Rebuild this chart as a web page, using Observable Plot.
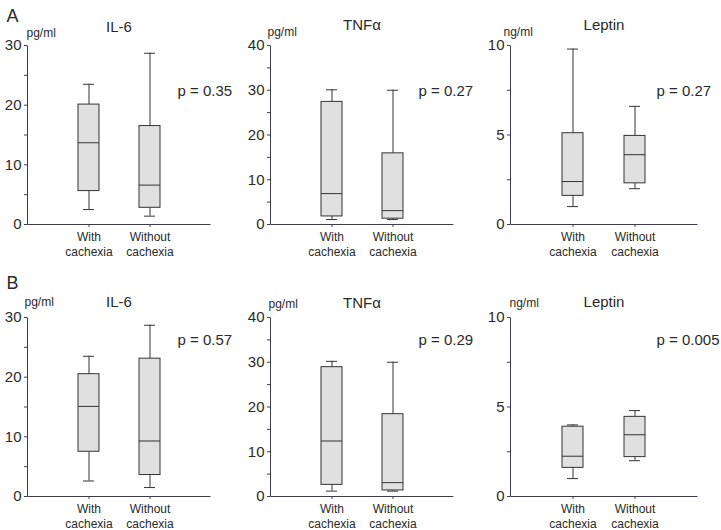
<!DOCTYPE html>
<html><head><meta charset="utf-8">
<script src="https://cdn.jsdelivr.net/npm/d3@7"></script>
<script src="https://cdn.jsdelivr.net/npm/@observablehq/plot@0.6"></script>
<style>
body{margin:0;background:#fff;}
#wrap{position:relative;width:721px;height:530px;font-family:"Liberation Sans",Arial,sans-serif;}
#wrap svg{position:absolute;}
</style></head><body><div id="wrap"></div>
<script>
// ---- data ----
const groups = ["With", "Without"];
const groupLabels = ["With\ncachexia", "Without\ncachexia"];
const markers = ["IL-6", "TNFα", "Leptin"];
const units = ["pg/ml", "pg/ml", "ng/ml"];
const yMax = [30, 40, 10];
const majorTicks = [[0, 10, 20, 30], [0, 10, 20, 30, 40], [0, 5, 10]];
const minorTicks = [[5, 15, 25], [5, 15, 25, 35], [2.5, 7.5]];
const rows = ["A", "B"];
const pValuesA = ["p = 0.35", "p = 0.27", "p = 0.27"];
const pValuesB = ["p = 0.57", "p = 0.29", "p = 0.005"];
// per marker: [With, Without]
const lowA  = [[2.5, 1.4], [1.1, 1.1], [1.0, 2.0]];
const q1A   = [[5.6, 2.8], [1.8, 1.3], [1.6, 2.3]];
const medA  = [[13.7, 6.6], [6.9, 3.1], [2.4, 3.9]];
const q3A   = [[20.1, 16.5], [27.4, 15.9], [5.1, 4.95]];
const highA = [[23.5, 28.7], [30.1, 30.0], [9.8, 6.6]];
const lowB  = [[2.6, 1.5], [1.2, 1.2], [1.0, 2.0]];
const q1B   = [[7.5, 3.6], [2.6, 1.35], [1.6, 2.2]];
const medB  = [[15.1, 9.3], [12.4, 3.1], [2.25, 3.45]];
const q3B   = [[20.5, 23.1], [28.9, 18.4], [3.9, 4.45]];
const highB = [[23.5, 28.7], [30.2, 30.0], [4.0, 4.8]];

// ---- layout ----
const rowStats = [
  {low: lowA, q1: q1A, med: medA, q3: q3A, high: highA, p: pValuesA},
  {low: lowB, q1: q1B, med: medB, q3: q3B, high: highB, p: pValuesB}
];
const panelLeft = [0, 240, 480];
const panelWidth = [240, 240, 241];
const mLeft = [27, 30, 30];
const mRight = [30, 27, 24];
const rowTop = [0, 265];
const rowH = 265;
const mTop = [45, 52];
const mBottom = [41, 34];
const titleDy = [[-18, -20, -20], [-15, -14.5, -15.5]];
const unitDx = [[-1, -3, -7], [-3, -2, -1]];
const unitDy = [[-12.7, -13, -13.4], [-15, -13, -14]];
const pDx = [150, 148, 146];
const pDy = [45.5, 23];
const letterDy = [-29, -34];
const axisColor = "#3e3e50";
const ink = "#2a2a2a";
const font = "'Liberation Sans', Arial, sans-serif";

const wrap = document.getElementById("wrap");
rows.forEach((rowName, r) => {
  const st = rowStats[r];
  markers.forEach((m, j) => {
    const data = groups.map((g, i) => ({
      g, lo: st.low[j][i], q1: st.q1[j][i], med: st.med[j][i], q3: st.q3[j][i], hi: st.high[j][i]
    }));
    const W = panelWidth[j];
    const w = W - mLeft[j] - mRight[j];
    const h = rowH - mTop[r] - mBottom[r];
    const marks = [
      Plot.frame({stroke: axisColor, strokeDasharray: `0 ${w + h} ${w + h}`}),
      Plot.axisY({ticks: majorTicks[j], tickSize: 3, tickPadding: 3, fontSize: 15, label: null, stroke: axisColor, fill: ink}),
      Plot.axisY({ticks: minorTicks[j], tickSize: 3, tickFormat: () => "", label: null, stroke: axisColor}),
      Plot.axisX({tickFormat: d => groupLabels[groups.indexOf(d)], tickSize: 3, tickPadding: 2, fontSize: 12, lineHeight: 1.3, label: null, stroke: axisColor, fill: ink}),
      Plot.ruleX(data, {x: "g", y1: "q3", y2: "hi", stroke: "#333"}),
      Plot.ruleX(data, {x: "g", y1: "lo", y2: "q1", stroke: "#333"}),
      Plot.tickY(data, {x: "g", y: "hi", insetLeft: 5, insetRight: 5, stroke: "#333"}),
      Plot.tickY(data, {x: "g", y: "lo", insetLeft: 5, insetRight: 5, stroke: "#333"}),
      Plot.barY(data, {x: "g", y1: "q1", y2: "q3", fill: "#e0e0e0", stroke: "#333"}),
      Plot.tickY(data, {x: "g", y: "med", stroke: "#333"}),
      Plot.text([m], {frameAnchor: "top", lineAnchor: "middle", dy: titleDy[r][j], fontSize: 15, fill: ink}),
      Plot.text([units[j]], {frameAnchor: "top-left", lineAnchor: "middle", textAnchor: "start", dx: unitDx[r][j], dy: unitDy[r][j], fontSize: 12, fill: ink}),
      Plot.text([st.p[j]], {frameAnchor: "top-left", lineAnchor: "middle", textAnchor: "start", dx: pDx[j], dy: pDy[r], fontSize: 15, fill: ink})
    ];
    if (j === 0) marks.push(Plot.text([rowName], {frameAnchor: "top-left", lineAnchor: "middle", textAnchor: "middle", dx: -15, dy: letterDy[r], fontSize: 18, fill: ink}));
    const svg = Plot.plot({
      width: W, height: rowH,
      marginTop: mTop[r], marginBottom: mBottom[r], marginLeft: mLeft[j], marginRight: mRight[j],
      style: {fontFamily: font, background: "transparent", overflow: "visible", color: ink},
      x: {type: "band", domain: groups, paddingInner: 0.66, paddingOuter: 0.82, axis: null},
      y: {domain: [0, yMax[j]], axis: null},
      marks
    });
    svg.style.left = panelLeft[j] + "px";
    svg.style.top = rowTop[r] + "px";
    wrap.appendChild(svg);
  });
});
</script></body></html>
